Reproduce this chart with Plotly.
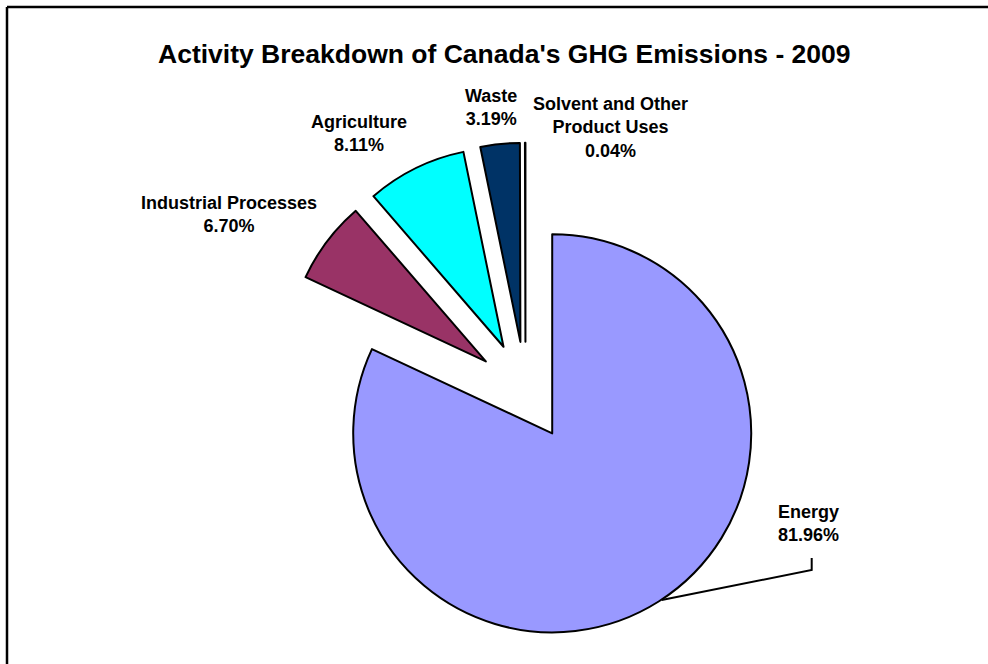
import plotly.graph_objects as go

# ---- data ----
categories = ["Energy", "Industrial Processes", "Agriculture", "Waste",
              "Solvent and Other Product Uses"]
label_text = ["Energy", "Industrial Processes", "Agriculture", "Waste",
              "Solvent and Other<br>Product Uses"]
values = [81.96, 6.70, 8.11, 3.19, 0.04]
colors = ["#9999FF", "#993366", "#00FFFF", "#003366", "#FFFFFF"]
pulls = [0.25, 0.25, 0.25, 0.25, 0.25]
title_text = "Activity Breakdown of Canada's GHG Emissions - 2009"

W, H = 988, 664
FONT = "Liberation Sans, Arial, sans-serif"


def px(x):
    return x / W


def py(y):
    return 1 - y / H


# pie placement (pixels): centre and radius
cx, cy, r = 525.5, 391.4, 199.0
half = r * (1 + max(pulls))

fig = go.Figure()
fig.add_trace(go.Pie(
    labels=categories,
    values=values,
    sort=False,
    direction="clockwise",
    rotation=0,
    pull=pulls,
    marker=dict(colors=colors, line=dict(color="black", width=2)),
    textinfo="none",
    hoverinfo="label+percent",
    showlegend=False,
    domain=dict(x=[px(cx - half), px(cx + half)],
                y=[py(cy + half), py(cy - half)]),
))

# label positions (pixel centres of text blocks)
label_pos = [(808, 523.5), (228.5, 214), (359, 133), (490.5, 107), (610.5, 128)]
annotations = []
for txt, v, (lx, ly) in zip(label_text, values, label_pos):
    annotations.append(dict(
        text="<b>%s<br>%.2f%%</b>" % (txt, v),
        x=px(lx), y=py(ly), xref="paper", yref="paper",
        xanchor="center", yanchor="middle", showarrow=False,
        align="center", font=dict(family=FONT, size=18, color="black"),
    ))
annotations.append(dict(
    text="<b>%s</b>" % title_text,
    x=px(504), y=py(54), xref="paper", yref="paper",
    xanchor="center", yanchor="middle", showarrow=False,
    font=dict(family=FONT, size=26.5, color="black"),
))

shapes = [
    # leader line for Energy label
    dict(type="path", xref="paper", yref="paper",
         path="M %f,%f L %f,%f L %f,%f" % (px(661.7), py(600), px(811.7), py(570),
                                            px(811.7), py(558)),
         line=dict(color="black", width=2)),
    # chart frame (left & top visible)
    dict(type="line", xref="paper", yref="paper", x0=px(7), y0=py(7), x1=1.02, y1=py(7),
         line=dict(color="black", width=2.5)),
    dict(type="line", xref="paper", yref="paper", x0=px(7), y0=py(7), x1=px(7), y1=-0.02,
         line=dict(color="black", width=2.5)),
]

fig.update_layout(
    width=W, height=H,
    margin=dict(l=0, r=0, t=0, b=0),
    paper_bgcolor="white", plot_bgcolor="white",
    annotations=annotations, shapes=shapes,
)

fig.write_html("out.html")
